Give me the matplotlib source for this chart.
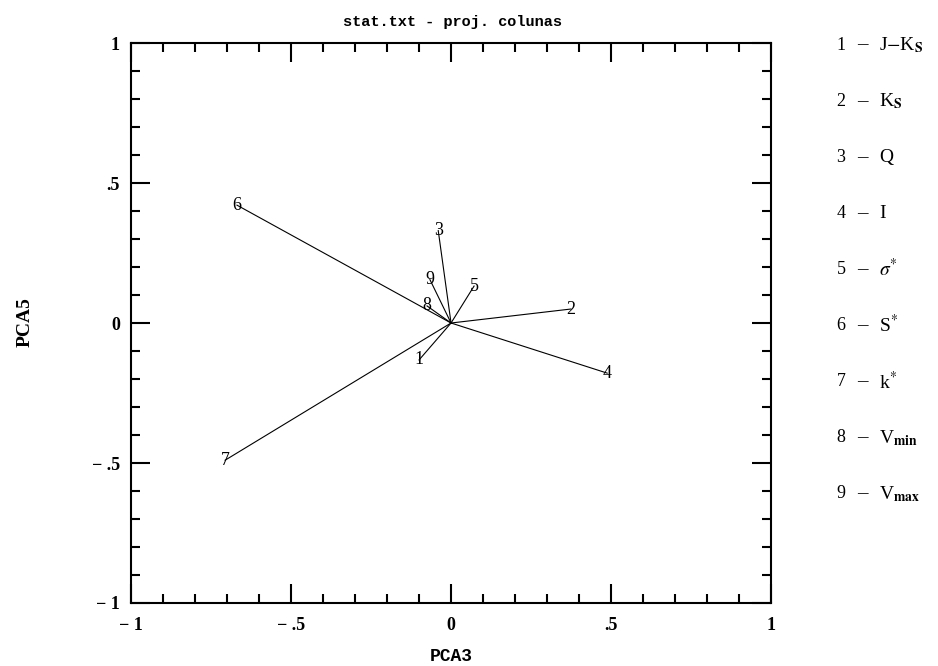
import matplotlib
matplotlib.use("Agg")
import matplotlib.pyplot as plt
from matplotlib.ticker import MultipleLocator, FixedLocator

plt.rcParams['font.family'] = 'Liberation Serif'
plt.rcParams['mathtext.fontset'] = 'stix'

# projections of the variables on PCA3 / PCA5
var_ids = ['1', '2', '3', '4', '5', '6', '7', '8', '9']
pca3 = [-0.100, 0.375, -0.040, 0.488, 0.072, -0.669, -0.706, -0.075, -0.066]
pca5 = [-0.132, 0.050, 0.330, -0.179, 0.132, 0.421, -0.490, 0.061, 0.155]
var_names = [r'J$-$K$_\mathbf{S}$', r'K$_\mathbf{S}$', 'Q', 'I', r'$\sigma^{*}$',
             r'S$^{*}$', r'k$^{*}$', r'V$_\mathbf{min}$', r'V$_\mathbf{max}$']

tick_vals = [-1, -0.5, 0, 0.5, 1]
tick_text = ['\u2212 1', '\u2212 .5', '0', '.5', '1']

fig = plt.figure(figsize=(9.38, 6.66), dpi=100, facecolor='white')
ax = fig.add_axes([0.1397, 0.0946, 0.6823, 0.8408])

for x, y, lab in zip(pca3, pca5, var_ids):
    ax.plot([0, x], [0, y], color='black', lw=0.8)
    ax.text(x, y, lab, ha='center', va='center', fontsize=13)

ax.set_xlim(-1, 1)
ax.set_ylim(-1, 1)

for a in (ax.xaxis, ax.yaxis):
    a.set_major_locator(FixedLocator(tick_vals))
    a.set_minor_locator(MultipleLocator(0.1))
ax.set_xticklabels(tick_text, fontweight='bold')
ax.set_yticklabels(tick_text, fontweight='bold')

ax.tick_params(which='both', direction='in', top=True, right=True, width=1.5)
ax.tick_params(which='major', length=13.5, labelsize=13)
ax.tick_params(axis='x', which='major', pad=10)
ax.tick_params(axis='y', which='major', pad=8)
ax.tick_params(which='minor', length=6.5)
for s in ax.spines.values():
    s.set_linewidth(1.5)

ax.set_xlabel('PCA3', fontsize=13, family='Liberation Mono', fontweight='bold', labelpad=10)
fig.text(25 / 938, 1 - 322 / 666, 'PCA5', rotation=90, ha='center', va='center',
         fontsize=14, fontweight='bold')
fig.text(452 / 938, 1 - 22 / 666, 'stat.txt - proj. colunas', ha='center', va='center',
         fontsize=11, family='Liberation Mono', fontweight='bold')

# list of variables on the right
for i, (lab, name) in enumerate(zip(var_ids, var_names)):
    yf = 1 - (45 + 56.1 * i) / 666
    fig.text(841 / 938, yf, lab, ha='center', va='center', fontsize=13)
    fig.text(862 / 938, yf, '\u2013', ha='center', va='center', fontsize=15)
    fig.text(879 / 938, yf, name, ha='left', va='center', fontsize=14)

fig.savefig('out.png', dpi=100)
